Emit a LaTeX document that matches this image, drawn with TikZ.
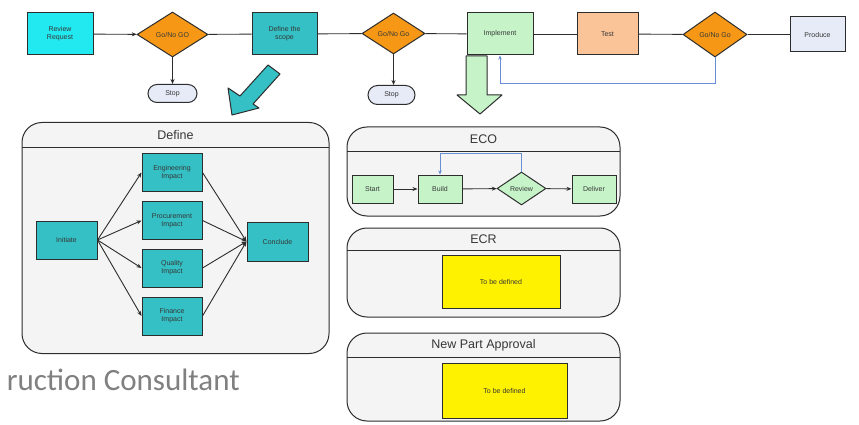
\documentclass[tikz,border=0pt]{standalone}
\usepackage{fontspec}
\setmainfont{Liberation Sans}
\newfontfamily\wmfont{Carlito}
\usetikzlibrary{shapes.geometric,shapes.misc,arrows.meta}
\definecolor{cyanc}{RGB}{34,232,240}
\definecolor{tealc}{RGB}{52,192,196}
\definecolor{orangec}{RGB}{246,152,22}
\definecolor{greenc}{RGB}{198,244,200}
\definecolor{peachc}{RGB}{250,196,152}
\definecolor{paleblue}{RGB}{230,235,247}
\definecolor{yellowc}{RGB}{255,242,0}
\definecolor{bluec}{RGB}{104,142,212}
\definecolor{linec}{RGB}{45,45,45}
\definecolor{contfill}{RGB}{244,244,244}
\definecolor{txtc}{RGB}{55,55,55}
\definecolor{wmc}{RGB}{128,128,128}
\begin{document}
\begin{tikzpicture}[x=1pt,y=-1pt,
  pbox/.style={rectangle,draw=linec,line width=1pt,align=center,inner sep=1pt,
    font=\fontsize{7}{8}\selectfont,text=txtc},
  dec/.style={diamond,draw=linec,line width=1pt,inner sep=0pt,fill=orangec,
    font=\fontsize{7}{8}\selectfont,text=txtc},
  stopb/.style={rounded rectangle,draw=linec,line width=1pt,fill=paleblue,inner sep=0pt,
    font=\fontsize{7}{8}\selectfont,text=txtc},
  cont/.style={rectangle,rounded corners=20pt,draw=linec,line width=1pt,fill=contfill},
  ttl/.style={font=\fontsize{12.5}{14}\selectfont,text=txtc,inner sep=0pt},
  arr/.style={draw=linec,line width=0.9pt,-{Stealth[length=5pt,width=4pt]}},
  ln/.style={draw=linec,line width=0.9pt},
  fb/.style={draw=bluec,line width=1pt,-{Stealth[length=4pt,width=3.5pt]}},
  wm/.style={font=\wmfont\fontsize{31}{36}\selectfont,text=wmc,inner sep=0pt}]
\useasboundingbox (0,0) rectangle (859,425);
\fill[white] (0,0) rectangle (859,425);

% ---------- top row ----------
\node[pbox,fill=cyanc,minimum width=66pt,minimum height=42pt] (rr) at (60,34) {Review\\Request};
\node[dec,minimum width=71pt,minimum height=45pt] (d1) at (172.5,34.5) {\makebox[0pt]{Go/No GO}};
\node[stopb,minimum width=49pt,minimum height=18pt] (s1) at (172.5,93.5) {Stop};
\node[pbox,fill=tealc,minimum width=65pt,minimum height=42pt] (ds) at (284.5,34) {Define the\\scope};
\node[dec,minimum width=63pt,minimum height=41pt] (d2) at (393.5,33.5) {\makebox[0pt]{Go/No Go}};
\node[stopb,minimum width=47pt,minimum height=19pt] (s2) at (391.5,95) {Stop};
\node[pbox,fill=greenc,minimum width=66pt,minimum height=42pt] (impl) at (500,34) {Implement};
\node[pbox,fill=peachc,minimum width=61pt,minimum height=42pt] (test) at (607.5,34) {Test};
\node[dec,minimum width=64pt,minimum height=45pt] (d3) at (715,34.5) {\makebox[0pt]{Go/No Go}};
\node[pbox,fill=paleblue,minimum width=55pt,minimum height=35pt] (prod) at (817.5,34.5) {Produce};

\draw[arr] (rr) -- (d1);
\draw[ln] (d1) -- (ds);
\draw[ln] (ds) -- (d2);
\draw[ln] (d2) -- (impl);
\draw[ln] (impl) -- (test);
\draw[ln] (test) -- (d3);
\draw[ln] (d3) -- (prod);
\draw[arr] (d1.south) -- (s1.north);
\draw[arr] (d2.south) -- (s2.north -| d2.south);
\draw[fb] (d3.south) -- ++(0,26) -| (impl.south);

% big arrows
\draw[draw=linec,line width=1pt,fill=tealc,line join=round]
  (268,65) -- (280,74) -- (253,104) -- (259,108) -- (232,115) -- (228,88) -- (240,96) -- cycle;
\draw[draw=linec,line width=1pt,fill=greenc,line join=round]
  (466,56) -- (487,56) -- (487,95) -- (502,95) -- (480,114) -- (457,95) -- (466,95) -- cycle;

% ---------- Define container ----------
\node[cont,minimum width=307pt,minimum height=231pt] (defc) at (175.5,238) {};
\draw[ln] (22,147) -- (329,147);
\node[ttl] (deft) at (175.5,135) {Define};
\node[pbox,fill=tealc,minimum width=61pt,minimum height=38pt] (ini) at (66.5,240) {Initiate};
\node[pbox,fill=tealc,minimum width=60pt,minimum height=38pt] (eng) at (172,172.5) {Engineering\\Impact};
\node[pbox,fill=tealc,minimum width=60pt,minimum height=38pt] (proc) at (172,220.5) {Procurement\\Impact};
\node[pbox,fill=tealc,minimum width=60pt,minimum height=38pt] (qual) at (172,268) {Quality\\Impact};
\node[pbox,fill=tealc,minimum width=60pt,minimum height=38pt] (fin) at (172,316) {Finance\\Impact};
\node[pbox,fill=tealc,minimum width=61pt,minimum height=39pt] (conc) at (277.5,241.5) {Conclude};
\foreach \n in {eng,proc,qual,fin}{
  \draw[arr] (ini.east) -- (\n.west);
  \draw[arr] (\n.east) -- (conc.west);
}

% ---------- ECO container ----------
\node[cont,minimum width=273pt,minimum height=89pt] (ecoc) at (483.5,171.5) {};
\draw[ln] (347,151) -- (620,151);
\node[ttl] (ecot) at (483.5,139) {ECO};
\node[pbox,fill=greenc,minimum width=41pt,minimum height=28pt] (start) at (372.5,189) {Start};
\node[pbox,fill=greenc,minimum width=44pt,minimum height=28pt] (build) at (440,189) {Build};
\node[dec,fill=greenc,minimum width=49pt,minimum height=33pt] (rev) at (521.5,188.5) {\makebox[0pt]{Review}};
\node[pbox,fill=greenc,minimum width=44pt,minimum height=28pt] (deliv) at (594,189) {Deliver};
\draw[arr] (start) -- (build);
\draw[arr] (build) -- (rev);
\draw[arr] (rev) -- (deliv);
\draw[fb] (rev.north) -- (521.5,153) -| (build.north);

% ---------- ECR container ----------
\node[cont,minimum width=273pt,minimum height=89pt] (ecrc) at (483.5,272.5) {};
\draw[ln] (347,250) -- (620,250);
\node[ttl] (ecrt) at (483.5,239) {ECR};
\node[pbox,fill=yellowc,minimum width=118pt,minimum height=53pt] (tbd1) at (501,281.5) {To be defined};

% ---------- New Part Approval container ----------
\node[cont,minimum width=273pt,minimum height=88pt] (npac) at (483.5,377) {};
\draw[ln] (347,357) -- (620,357);
\node[ttl] (npat) at (483.5,345) {New Part Approval};
\node[pbox,fill=yellowc,minimum width=125pt,minimum height=55pt] (tbd2) at (504.5,390.5) {To be defined};

% watermark
\node[wm,anchor=base east] (wmk) at (240,390) {ruction Consultant};
\end{tikzpicture}
\end{document}
